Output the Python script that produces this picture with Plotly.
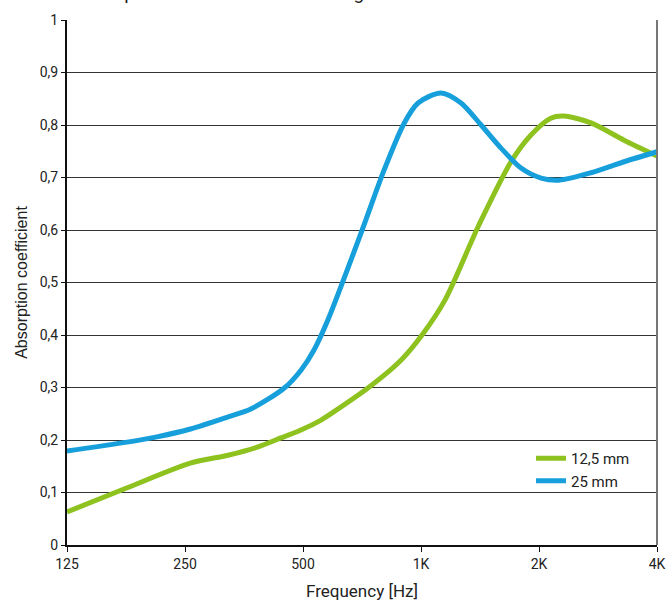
import plotly.graph_objects as go

# Frequencies (Hz) and absorption coefficients
freq_12 = [125, 178, 258, 322, 384, 439, 494, 556, 600, 732, 889, 1006, 1152, 1406, 1697, 1908, 2143, 2316, 2714, 3296, 4000]
alpha_12 = [0.063, 0.109, 0.156, 0.171, 0.187, 0.204, 0.219, 0.238, 0.254, 0.299, 0.352, 0.400, 0.467, 0.610, 0.730, 0.781, 0.813, 0.817, 0.804, 0.771, 0.741]

freq_25 = [125, 178, 212, 258, 322, 368, 448, 494, 533, 579, 703, 805, 905, 983, 1125, 1265, 1423, 1600, 1799, 2024, 2250, 2714, 3296, 4000]
alpha_25 = [0.179, 0.196, 0.206, 0.221, 0.244, 0.259, 0.299, 0.333, 0.371, 0.429, 0.594, 0.714, 0.803, 0.842, 0.861, 0.842, 0.800, 0.756, 0.718, 0.699, 0.695, 0.709, 0.730, 0.749]

x_tickvals = [125, 250, 500, 1000, 2000, 4000]
x_ticktext = ["125", "250", "500", "1K", "2K", "4K"]
y_tickvals = [0, 0.1, 0.2, 0.3, 0.4, 0.5, 0.6, 0.7, 0.8, 0.9, 1.0]
y_ticktext = ["0", "0,1", "0,2", "0,3", "0,4", "0,5", "0,6", "0,7", "0,8", "0,9", "1"]

GREEN = "#8DC21F"
BLUE = "#169FDB"
FONT = "Roboto"

fig = go.Figure()
fig.add_trace(go.Scatter(x=freq_12, y=alpha_12, mode="lines", name="12,5 mm",
                         line=dict(color=GREEN, width=5, shape="spline", smoothing=0.8)))
fig.add_trace(go.Scatter(x=freq_25, y=alpha_25, mode="lines", name="25 mm",
                         line=dict(color=BLUE, width=5, shape="spline", smoothing=0.8)))

fig.update_layout(
    width=666, height=602,
    margin=dict(l=67, r=9, t=20, b=57, autoexpand=False),
    paper_bgcolor="white", plot_bgcolor="white",
    font=dict(family=FONT, size=14, color="#222"),
    showlegend=True,
    legend=dict(x=(531 - 67) / 590, y=(545 - 442) / 525, xanchor="left", yanchor="top",
                bgcolor="rgba(0,0,0,0)", font=dict(family=FONT, size=15, color="#222"),
                itemwidth=30, tracegroupgap=0),
    xaxis=dict(type="log", range=[2.09691, 3.60206], automargin=False,
               tickvals=x_tickvals, ticktext=x_ticktext,
               showgrid=False, showline=True, linecolor="#111", linewidth=2,
               ticks="outside", ticklen=5, tickcolor="#111", tickwidth=1,
               mirror=False, zeroline=False,
               tickfont=dict(family=FONT, size=14, color="#222"),
               title=dict(text="Frequency [Hz]", font=dict(family=FONT, size=17, color="#222"), standoff=14)),
    yaxis=dict(range=[0, 1.0], tickvals=y_tickvals, ticktext=y_ticktext, automargin=False,
               showgrid=True, gridcolor="#333", gridwidth=1,
               showline=True, linecolor="#111", linewidth=2,
               ticks="outside", ticklen=4, tickcolor="#111",
               zeroline=False,
               tickfont=dict(family=FONT, size=14, color="#222"),
               title=dict(text="Absorption coefficient", font=dict(family="Liberation Sans", size=16, color="#222"), standoff=8)),
)

# right border of plot area
fig.add_shape(type="line", xref="paper", yref="paper", x0=1, x1=1, y0=0, y1=1,
              line=dict(color="#777", width=2))

# title, mostly cut off at the top of the picture
fig.add_annotation(text="Absorption data – direct mounting", xref="paper", yref="paper",
                   x=5 / 590, y=1 + 14 / 525, xanchor="left", yanchor="bottom", showarrow=False,
                   font=dict(family=FONT, size=19, color="#222"))

fig.write_html("out.html", config={"displayModeBar": False},
               post_script="document.body.style.margin='0px';document.body.style.overflow='hidden';")
